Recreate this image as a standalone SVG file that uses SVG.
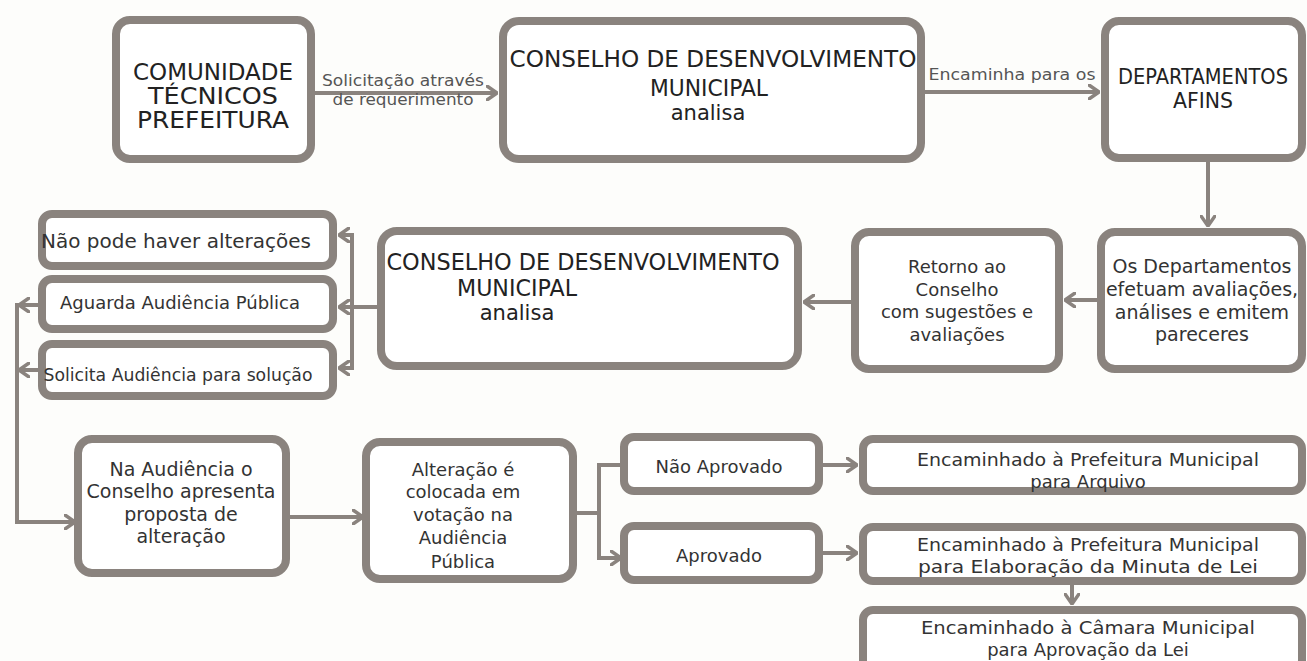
<svg xmlns="http://www.w3.org/2000/svg" width="1307" height="661" viewBox="0 0 1307 661">
<defs>
<marker id="ah" viewBox="0 0 12 16" refX="11" refY="8" markerWidth="12" markerHeight="16" markerUnits="userSpaceOnUse" orient="auto">
<path d="M1,1 L11,8 L1,15" fill="none" stroke="#8a837e" stroke-width="3.5" stroke-linecap="round" stroke-linejoin="round"/>
</marker>
<style>
.box{fill:#ffffff;stroke:#8a837e;stroke-width:8}
.ln{fill:none;stroke:#8a837e;stroke-width:4}
.arr{fill:none;stroke:#8a837e;stroke-width:4;marker-end:url(#ah)}
text{font-family:"DejaVu Sans","Liberation Sans",sans-serif;text-anchor:middle;fill:#333333}
.cap{font-size:23px;fill:#222222}
.cap2{font-size:21px;fill:#222222}
.big{font-size:21px;fill:#222222}
.t19{font-size:19px}
.t18{font-size:18px}
.t17{font-size:17px}
.lbl{font-size:16px;fill:#555555}
</style>
</defs>
<rect x="0" y="0" width="1307" height="661" fill="#fdfdfb"/>

<g id="connectors">
<line class="arr" x1="315" y1="93" x2="497" y2="93"/>
<line class="arr" x1="925" y1="92" x2="1099" y2="92"/>
<line class="arr" x1="1208" y1="162" x2="1208" y2="226"/>
<line class="arr" x1="1097" y1="300" x2="1065" y2="300"/>
<line class="arr" x1="851" y1="302" x2="804" y2="302"/>
<polyline class="ln" points="377,307 352,307"/>
<line class="ln" x1="352" y1="233" x2="352" y2="370"/>
<line class="arr" x1="354" y1="235" x2="339" y2="235"/>
<line class="arr" x1="352" y1="307" x2="339" y2="307"/>
<line class="arr" x1="354" y1="368" x2="339" y2="368"/>
<line class="arr" x1="38" y1="305" x2="19" y2="305"/>
<line class="arr" x1="38" y1="370" x2="19" y2="370"/>
<polyline class="arr" points="17,303 17,522 75,522"/>
<line class="arr" x1="290" y1="517" x2="363" y2="517"/>
<line class="ln" x1="577" y1="513" x2="599" y2="513"/>
<polyline class="arr" points="621,465 599,465 599,558 621,558"/>
<line class="arr" x1="823" y1="465" x2="857" y2="465"/>
<line class="arr" x1="823" y1="553" x2="857" y2="553"/>
<line class="arr" x1="1072" y1="585" x2="1072" y2="604"/>
<text class="lbl" x="403" y="86" textLength="162" lengthAdjust="spacingAndGlyphs">Solicitação através</text>
<text class="lbl" x="403" y="105" textLength="141" lengthAdjust="spacingAndGlyphs">de requerimento</text>
<text class="lbl" x="1012" y="80" textLength="167" lengthAdjust="spacingAndGlyphs">Encaminha para os</text>
</g>

<g id="comunidade">
<rect class="box" x="116" y="20" width="195" height="139" rx="14"/>
<text class="cap" x="213" y="80" textLength="160" lengthAdjust="spacingAndGlyphs">COMUNIDADE</text>
<text class="cap" x="213" y="104" textLength="130" lengthAdjust="spacingAndGlyphs">TÉCNICOS</text>
<text class="cap" x="213" y="128" textLength="152" lengthAdjust="spacingAndGlyphs">PREFEITURA</text>
</g>

<g id="conselho1">
<rect class="box" x="503" y="21" width="418" height="138" rx="16"/>
<text class="cap" x="713" y="67" textLength="407" lengthAdjust="spacingAndGlyphs">CONSELHO DE DESENVOLVIMENTO</text>
<text class="cap" x="709" y="96" textLength="118" lengthAdjust="spacingAndGlyphs">MUNICIPAL</text>
<text class="big" x="708" y="120">analisa</text>
</g>

<g id="departamentos">
<rect class="box" x="1105" y="21" width="197" height="137" rx="14"/>
<text class="cap2" x="1203" y="84" textLength="170" lengthAdjust="spacingAndGlyphs">DEPARTAMENTOS</text>
<text class="cap2" x="1203" y="108" textLength="60" lengthAdjust="spacingAndGlyphs">AFINS</text>
</g>

<g id="os-departamentos">
<rect class="box" x="1101" y="232" width="201" height="137" rx="14"/>
<text class="t19" x="1202" y="273">Os Departamentos</text>
<text class="t19" x="1202" y="296">efetuam avaliações,</text>
<text class="t19" x="1202" y="319">análises e emitem</text>
<text class="t19" x="1202" y="341">pareceres</text>
</g>

<g id="retorno">
<rect class="box" x="855" y="232" width="204" height="137" rx="14"/>
<text class="t18" x="957" y="273">Retorno ao</text>
<text class="t18" x="957" y="296">Conselho</text>
<text class="t18" x="957" y="318">com sugestões e</text>
<text class="t18" x="957" y="341">avaliações</text>
</g>

<g id="conselho2">
<rect class="box" x="381" y="231" width="417" height="135" rx="16"/>
<text class="cap" x="583" y="270" textLength="393" lengthAdjust="spacingAndGlyphs">CONSELHO DE DESENVOLVIMENTO</text>
<text class="cap" x="517" y="296" textLength="120" lengthAdjust="spacingAndGlyphs">MUNICIPAL</text>
<text class="big" x="517" y="320">analisa</text>
</g>

<g id="nao-pode">
<rect class="box" x="42" y="214" width="291" height="52" rx="10"/>
<text class="t19" x="176" y="248" textLength="270" lengthAdjust="spacingAndGlyphs">Não pode haver alterações</text>
</g>

<g id="aguarda">
<rect class="box" x="42" y="279" width="291" height="50" rx="10"/>
<text class="t18" x="180" y="309">Aguarda Audiência Pública</text>
</g>

<g id="solicita">
<rect class="box" x="42" y="344" width="291" height="52" rx="10"/>
<text class="t17" x="178" y="381" textLength="269" lengthAdjust="spacingAndGlyphs">Solicita Audiência para solução</text>
</g>

<g id="na-audiencia">
<rect class="box" x="78" y="439" width="208" height="134" rx="14"/>
<text class="t19" x="181" y="476">Na Audiência o</text>
<text class="t19" x="181" y="498">Conselho apresenta</text>
<text class="t19" x="181" y="521">proposta de</text>
<text class="t19" x="181" y="543">alteração</text>
</g>

<g id="alteracao">
<rect class="box" x="366" y="442" width="207" height="137" rx="14"/>
<text class="t18" x="463" y="476">Alteração é</text>
<text class="t18" x="463" y="498">colocada em</text>
<text class="t18" x="463" y="521">votação na</text>
<text class="t18" x="463" y="544">Audiência</text>
<text class="t18" x="463" y="568">Pública</text>
</g>

<g id="nao-aprovado">
<rect class="box" x="624" y="437" width="195" height="54" rx="10"/>
<text class="t18" x="719" y="473">Não Aprovado</text>
</g>

<g id="aprovado">
<rect class="box" x="624" y="526" width="195" height="54" rx="10"/>
<text class="t18" x="719" y="562">Aprovado</text>
</g>

<g id="arquivo">
<rect class="box" x="863" y="439" width="439" height="52" rx="10"/>
<text class="t18" x="1088" y="466" textLength="342" lengthAdjust="spacingAndGlyphs">Encaminhado à Prefeitura Municipal</text>
<text class="t18" x="1088" y="488">para Arquivo</text>
</g>

<g id="elaboracao">
<rect class="box" x="863" y="527" width="439" height="54" rx="10"/>
<text class="t18" x="1088" y="551" textLength="342" lengthAdjust="spacingAndGlyphs">Encaminhado à Prefeitura Municipal</text>
<text class="t18" x="1088" y="573" textLength="340" lengthAdjust="spacingAndGlyphs">para Elaboração da Minuta de Lei</text>
</g>

<g id="camara">
<rect class="box" x="863" y="610" width="439" height="60" rx="10"/>
<text class="t18" x="1088" y="634" textLength="334" lengthAdjust="spacingAndGlyphs">Encaminhado à Câmara Municipal</text>
<text class="t18" x="1088" y="656">para Aprovação da Lei</text>
</g>
</svg>
